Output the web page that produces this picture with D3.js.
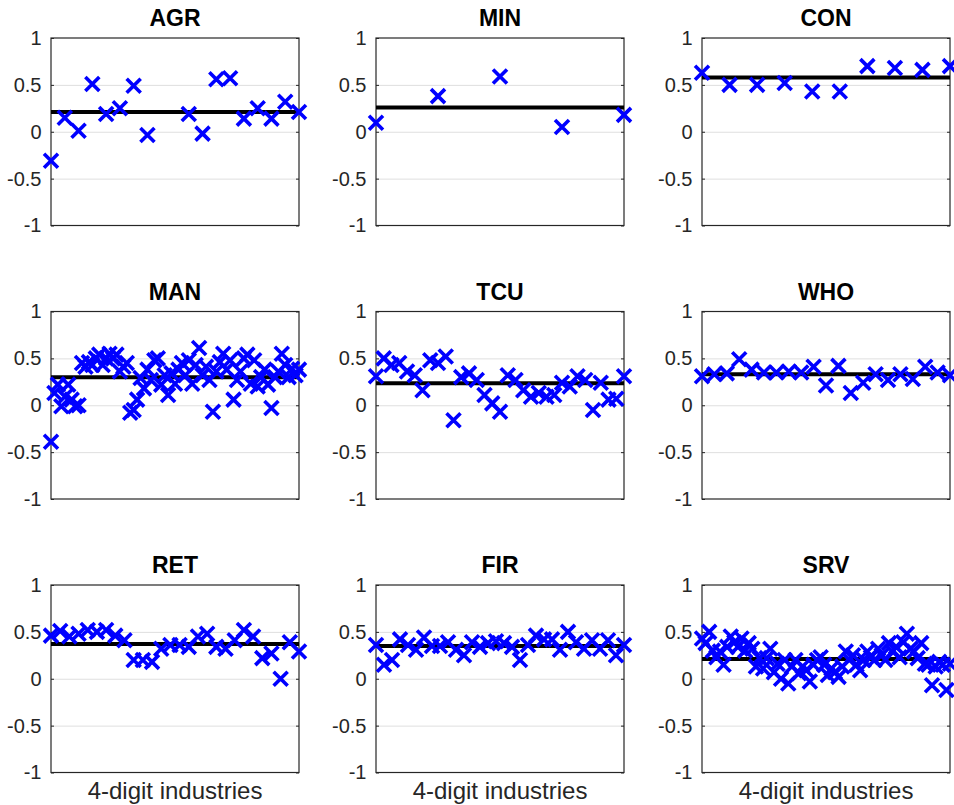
<!DOCTYPE html>
<html>
<head>
<meta charset="utf-8">
<script src="https://cdn.jsdelivr.net/npm/d3@7"></script>
<style>
  body { margin: 0; background: #fff; }
  svg { display: block; font-family: "Liberation Sans", Arial, Helvetica, sans-serif; }
</style>
</head>
<body>
<div id="chart"></div>
<script>
'use strict';

// - Data (one value per 4-digit industry, null = gap)
const sectors = ['AGR', 'MIN', 'CON', 'MAN', 'TCU', 'WHO', 'RET', 'FIR', 'SRV'];

const agr = [-0.31, 0.15, 0.01, 0.51, 0.19, 0.25, 0.49, -0.035, null, null,
    0.19, -0.02, 0.56, 0.57, 0.14, 0.25, 0.14, 0.32, 0.21];
const min = [0.095, 0.38, 0.59, 0.05, 0.18];
const con = [0.63, 0.50, 0.50, 0.52, 0.43, 0.43, 0.70, 0.68, 0.66, 0.70];
const man = [-0.39, 0.13, 0.22, -0.01, 0.09, 0.22, 0.06, -0.01, 0.00, 0.45,
    0.41, 0.46, 0.43, 0.50, 0.54, 0.43, 0.50, 0.55, 0.50, 0.54,
    0.36, 0.41, 0.45, -0.08, -0.05, 0.06, 0.29, 0.18, 0.38, 0.27,
    0.48, 0.50, 0.22, 0.32, 0.11, 0.34, 0.23, 0.38, 0.45, 0.32,
    0.48, 0.23, 0.43, 0.61, 0.32, 0.41, 0.27, -0.07, 0.36, 0.46,
    0.55, 0.38, 0.48, 0.06, 0.27, 0.36, 0.50, 0.54, 0.23, 0.48,
    0.20, 0.30, 0.38, 0.22, -0.03, 0.30, 0.36, 0.55, 0.43, 0.30,
    0.39, 0.32, 0.38];
const tcu = [0.31, 0.50, 0.43, 0.45, 0.36, 0.32, 0.16, 0.48, 0.45, 0.52,
    -0.16, 0.30, 0.34, 0.27, 0.11, 0.02, -0.07, 0.32, 0.27, 0.16,
    0.09, 0.13, 0.09, 0.11, 0.24, 0.20, 0.31, 0.27, -0.05, 0.24,
    0.06, 0.07, 0.31];
const who = [0.31, 0.33, 0.34, 0.49, 0.38, 0.35, 0.35, 0.36, 0.35, 0.41,
    0.21, 0.42, 0.13, 0.24, 0.33, 0.27, 0.33, 0.28, 0.41, 0.35, 0.32];
const ret = [0.46, 0.51, 0.45, 0.48, 0.52, 0.50, 0.52, 0.46, 0.41, 0.20,
    0.20, 0.18, 0.32, 0.36, 0.36, 0.34, 0.45, 0.48, 0.34, 0.32,
    0.41, 0.52, 0.45, 0.22, 0.27, 0.00, 0.39, 0.29];
const fir = [0.36, 0.15, 0.20, 0.42, 0.36, 0.31, 0.44, 0.35, 0.35, 0.39,
    0.31, 0.25, 0.39, 0.34, 0.38, 0.40, 0.38, 0.34, 0.20, 0.36,
    0.46, 0.42, 0.42, 0.31, 0.50, 0.39, 0.32, 0.41, 0.32, 0.41,
    0.25, 0.36];
const srv = [0.43, 0.38, 0.50, 0.30, 0.23, 0.29, 0.15, 0.34, 0.45, 0.39,
    0.34, 0.43, 0.30, 0.38, 0.32, 0.13, 0.22, 0.11, 0.22, 0.32,
    0.07, 0.16, 0.00, 0.20, -0.05, 0.13, 0.20, 0.06, 0.13, 0.09,
    -0.03, 0.15, 0.20, 0.23, 0.15, 0.04, 0.11, 0.07, 0.02, 0.13,
    0.29, 0.20, 0.25, 0.15, 0.09, 0.20, 0.29, 0.23, 0.20, 0.32,
    0.25, 0.20, 0.38, 0.29, 0.34, 0.23, 0.39, 0.48, 0.32, 0.29,
    0.22, 0.38, 0.16, 0.15, -0.07, 0.13, 0.18, 0.15, -0.12, 0.16];

// Sector averages (thick black line)
const sectorMeans = [0.21, 0.26, 0.58, 0.30, 0.235, 0.33, 0.37, 0.35, 0.21];

const yTicks = [-1, -0.5, 0, 0.5, 1];
const yTickLabels = ['-1', '-0.5', '0', '0.5', '1'];
const xLabel = '4-digit industries';

const sectorValues = [agr, min, con, man, tcu, who, ret, fir, srv];

// Layout
const width = 954, height = 805;
const colLeft = [51, 376, 702];
const rowTop = [38, 311.5, 585];
const panelW = 248, panelH = 187.5;
const markerHalf = 7;

const svg = d3.select('#chart').append('svg')
    .attr('width', width).attr('height', height);

sectors.forEach((name, i) => {
    drawPanel(name, sectorValues[i], sectorMeans[i], i % 3, Math.floor(i / 3));
});

function drawPanel(name, values, mean, col, row) {
    let g = svg.append('g')
        .attr('transform', `translate(${colLeft[col]},${rowTop[row]})`);

    let x = d3.scaleLinear().domain([1, values.length]).range([0, panelW]);
    let y = d3.scaleLinear().domain([-1, 1]).range([panelH, 0]);

    // Grid lines
    g.append('g')
        .call(d3.axisLeft(y).tickValues(yTicks.slice(1, -1)).tickSize(-panelW).tickFormat(''))
        .call(a => a.select('.domain').remove())
        .selectAll('line').attr('stroke', '#dfdfdf').attr('stroke-width', 1);

    // Tick labels
    g.append('g')
        .call(d3.axisLeft(y).tickValues(yTicks).tickSize(0).tickPadding(9.5)
            .tickFormat((d, k) => yTickLabels[k]))
        .call(a => a.select('.domain').remove())
        .selectAll('text')
        .attr('font-size', 20)
        .attr('font-family', '"Liberation Sans", Arial, sans-serif')
        .attr('fill', '#262626');

    // Small inward ticks on both sides
    g.append('g')
        .call(d3.axisRight(y).tickValues(yTicks).tickSize(3).tickFormat(''))
        .call(a => a.select('.domain').remove())
        .selectAll('line').attr('stroke', '#262626');
    g.append('g').attr('transform', `translate(${panelW},0)`)
        .call(d3.axisLeft(y).tickValues(yTicks).tickSize(3).tickFormat(''))
        .call(a => a.select('.domain').remove())
        .selectAll('line').attr('stroke', '#262626');

    // Box
    g.append('rect')
        .attr('width', panelW).attr('height', panelH)
        .attr('fill', 'none')
        .attr('stroke', '#262626')
        .attr('stroke-width', 1.2);

    // Mean line
    g.append('line')
        .attr('x1', x(1)).attr('x2', x(values.length))
        .attr('y1', y(mean)).attr('y2', y(mean))
        .attr('stroke', '#000')
        .attr('stroke-width', 4);

    // Markers
    let pts = values.map((v, k) => ({ i: k + 1, v: v })).filter(d => d.v !== null);
    g.selectAll('path.mark')
        .data(pts)
        .join('path')
        .classed('mark', true)
        .attr('transform', d => `translate(${x(d.i)},${y(d.v)})`)
        .attr('d', `M${-markerHalf},${-markerHalf}L${markerHalf},${markerHalf}M${-markerHalf},${markerHalf}L${markerHalf},${-markerHalf}`)
        .attr('fill', 'none')
        .attr('stroke', '#0000ff')
        .attr('stroke-width', 3.6);

    // Title
    g.append('text')
        .attr('x', panelW / 2).attr('y', -12)
        .attr('text-anchor', 'middle')
        .attr('font-size', 23)
        .attr('font-weight', 'bold')
        .attr('fill', '#000')
        .text(name);

    // X label on the bottom row only
    if (row === 2) {
        g.append('text')
            .attr('x', panelW / 2).attr('y', panelH + 26.5)
            .attr('text-anchor', 'middle')
            .attr('font-size', 24)
            .attr('fill', '#262626')
            .text(xLabel);
    }
}
</script>
</body>
</html>
